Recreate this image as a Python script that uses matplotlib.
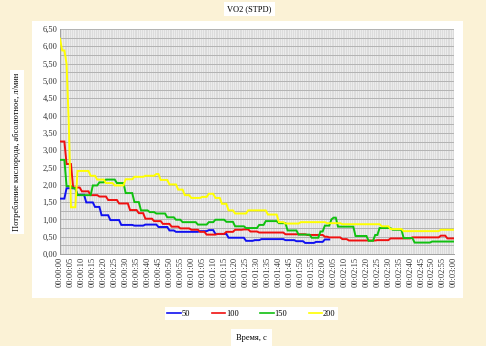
import numpy as np
import matplotlib
matplotlib.use("Agg")
import matplotlib.pyplot as plt
from matplotlib.patches import Rectangle
from matplotlib.ticker import MultipleLocator, FuncFormatter

# VO2 (STPD), one sample per second, l/min
vo2_50 = [
    1.60, 1.60, 1.60, 1.90, 1.90, 1.90, 1.90, 1.90, 1.71, 1.71,
    1.71, 1.71, 1.49, 1.49, 1.49, 1.49, 1.36, 1.36, 1.36, 1.12,
    1.12, 1.12, 1.12, 0.98, 0.98, 0.98, 0.98, 0.98, 0.84, 0.84,
    0.84, 0.84, 0.84, 0.84, 0.82, 0.82, 0.82, 0.82, 0.82, 0.85,
    0.85, 0.85, 0.85, 0.85, 0.85, 0.78, 0.78, 0.78, 0.78, 0.78,
    0.68, 0.68, 0.68, 0.64, 0.64, 0.64, 0.64, 0.64, 0.64, 0.64,
    0.64, 0.64, 0.64, 0.64, 0.66, 0.66, 0.66, 0.66, 0.69, 0.69,
    0.69, 0.58, 0.58, 0.58, 0.58, 0.58, 0.58, 0.47, 0.47, 0.47,
    0.47, 0.47, 0.47, 0.47, 0.47, 0.38, 0.38, 0.38, 0.38, 0.40,
    0.40, 0.40, 0.43, 0.43, 0.43, 0.43, 0.43, 0.43, 0.43, 0.43,
    0.43, 0.43, 0.43, 0.40, 0.40, 0.40, 0.40, 0.40, 0.37, 0.37,
    0.37, 0.37, 0.32, 0.32, 0.32, 0.32, 0.32, 0.35, 0.35, 0.35,
    0.35, 0.42, 0.42, 0.42,
]
vo2_100 = [
    3.25, 3.25, 3.25, 2.60, 2.60, 2.60, 1.92, 1.92, 1.92, 1.92,
    1.81, 1.81, 1.81, 1.81, 1.70, 1.70, 1.70, 1.70, 1.66, 1.66,
    1.66, 1.66, 1.56, 1.56, 1.56, 1.56, 1.56, 1.46, 1.46, 1.46,
    1.46, 1.46, 1.27, 1.27, 1.27, 1.27, 1.18, 1.18, 1.18, 1.02,
    1.02, 1.02, 1.02, 0.95, 0.95, 0.95, 0.95, 0.87, 0.87, 0.87,
    0.87, 0.79, 0.79, 0.79, 0.79, 0.74, 0.74, 0.74, 0.74, 0.74,
    0.70, 0.70, 0.70, 0.70, 0.64, 0.64, 0.64, 0.56, 0.56, 0.56,
    0.56, 0.56, 0.58, 0.58, 0.58, 0.58, 0.64, 0.64, 0.64, 0.64,
    0.70, 0.70, 0.70, 0.70, 0.71, 0.71, 0.71, 0.65, 0.65, 0.65,
    0.65, 0.62, 0.62, 0.62, 0.62, 0.62, 0.62, 0.62, 0.62, 0.62,
    0.62, 0.62, 0.62, 0.57, 0.57, 0.57, 0.57, 0.57, 0.57, 0.57,
    0.57, 0.57, 0.57, 0.55, 0.55, 0.55, 0.55, 0.55, 0.55, 0.55,
    0.55, 0.50, 0.50, 0.48, 0.48, 0.48, 0.48, 0.48, 0.48, 0.43,
    0.43, 0.43, 0.39, 0.39, 0.39, 0.39, 0.39, 0.39, 0.39, 0.39,
    0.39, 0.39, 0.39, 0.39, 0.39, 0.40, 0.40, 0.40, 0.40, 0.40,
    0.40, 0.45, 0.45, 0.45, 0.45, 0.45, 0.45, 0.45, 0.45, 0.45,
    0.45, 0.48, 0.48, 0.48, 0.48, 0.48, 0.48, 0.48, 0.48, 0.48,
    0.48, 0.48, 0.48, 0.48, 0.53, 0.53, 0.53, 0.45, 0.45, 0.45,
    0.45,
]
vo2_150 = [
    2.72, 2.72, 2.72, 1.96, 1.96, 1.96, 1.90, 1.90, 1.70, 1.70,
    1.70, 1.70, 1.70, 1.70, 1.70, 1.98, 1.98, 1.98, 2.07, 2.07,
    2.07, 2.15, 2.15, 2.15, 2.15, 2.15, 2.05, 2.05, 2.05, 2.05,
    1.76, 1.76, 1.76, 1.76, 1.50, 1.50, 1.50, 1.26, 1.26, 1.26,
    1.26, 1.21, 1.21, 1.21, 1.17, 1.17, 1.17, 1.17, 1.17, 1.06,
    1.06, 1.06, 1.06, 0.99, 0.99, 0.99, 0.92, 0.92, 0.92, 0.92,
    0.92, 0.92, 0.92, 0.85, 0.85, 0.85, 0.85, 0.85, 0.92, 0.92,
    0.92, 0.99, 0.99, 0.99, 0.99, 0.99, 0.93, 0.93, 0.93, 0.93,
    0.80, 0.80, 0.80, 0.80, 0.80, 0.75, 0.75, 0.75, 0.75, 0.75,
    0.75, 0.84, 0.84, 0.84, 0.95, 0.95, 0.95, 0.95, 0.95, 0.95,
    0.89, 0.89, 0.89, 0.89, 0.68, 0.68, 0.68, 0.68, 0.68, 0.56,
    0.56, 0.56, 0.56, 0.56, 0.56, 0.47, 0.47, 0.47, 0.47, 0.65,
    0.65, 0.82, 0.82, 0.82, 1.00, 1.05, 1.05, 0.79, 0.79, 0.79,
    0.79, 0.79, 0.79, 0.79, 0.79, 0.52, 0.52, 0.52, 0.52, 0.52,
    0.52, 0.38, 0.38, 0.38, 0.55, 0.55, 0.75, 0.75, 0.75, 0.75,
    0.75, 0.75, 0.70, 0.70, 0.70, 0.70, 0.70, 0.46, 0.46, 0.46,
    0.46, 0.46, 0.33, 0.33, 0.33, 0.33, 0.33, 0.33, 0.33, 0.33,
    0.36, 0.36, 0.36, 0.36, 0.36, 0.36, 0.36, 0.36, 0.36, 0.36,
    0.36,
]
vo2_200 = [
    6.22, 5.88, 5.88, 5.50, 3.80, 1.35, 1.35, 1.35, 2.40, 2.40,
    2.40, 2.40, 2.40, 2.40, 2.26, 2.26, 2.26, 2.15, 2.15, 2.15,
    2.15, 2.05, 2.05, 2.05, 2.05, 1.98, 1.98, 1.98, 1.98, 1.98,
    2.16, 2.16, 2.16, 2.16, 2.23, 2.23, 2.23, 2.23, 2.23, 2.26,
    2.26, 2.26, 2.26, 2.26, 2.31, 2.31, 2.14, 2.14, 2.14, 2.14,
    2.01, 2.01, 2.01, 2.01, 1.86, 1.86, 1.86, 1.70, 1.70, 1.70,
    1.62, 1.62, 1.62, 1.62, 1.62, 1.65, 1.65, 1.65, 1.74, 1.74,
    1.74, 1.62, 1.62, 1.62, 1.45, 1.45, 1.45, 1.26, 1.26, 1.26,
    1.17, 1.17, 1.17, 1.17, 1.17, 1.17, 1.26, 1.26, 1.26, 1.26,
    1.26, 1.26, 1.26, 1.26, 1.26, 1.14, 1.14, 1.14, 1.14, 1.14,
    0.92, 0.92, 0.92, 0.88, 0.88, 0.88, 0.88, 0.88, 0.88, 0.88,
    0.92, 0.92, 0.92, 0.92, 0.92, 0.92, 0.92, 0.92, 0.92, 0.92,
    0.92, 0.92, 0.89, 0.89, 0.89, 0.89, 0.89, 0.89, 0.89, 0.86,
    0.86, 0.86, 0.86, 0.86, 0.86, 0.86, 0.86, 0.86, 0.86, 0.86,
    0.86, 0.86, 0.86, 0.86, 0.86, 0.86, 0.86, 0.80, 0.80, 0.80,
    0.80, 0.72, 0.72, 0.72, 0.72, 0.72, 0.72, 0.66, 0.66, 0.66,
    0.66, 0.66, 0.66, 0.66, 0.66, 0.66, 0.66, 0.66, 0.66, 0.66,
    0.66, 0.66, 0.66, 0.66, 0.70, 0.70, 0.70, 0.70, 0.70, 0.70,
    0.70,
]
series_names = ["50", "100", "150", "200"]
series_colors = ["#1010F0", "#F01010", "#10C010", "#FFFF00"]
tick_seconds = list(range(0, 181, 5))
tick_labels = [f"00:{s // 60:02d}:{s % 60:02d}" for s in tick_seconds]

serif = "Liberation Serif"
fs = 6

W, H = 486, 346
fig = plt.figure(figsize=(W / 100, H / 100), dpi=100)
fig.patch.set_facecolor("#FBF2D6")

def px_box(x0, y0, x1, y1):
    return [x0 / W, 1 - y1 / H, (x1 - x0) / W, (y1 - y0) / H]

# white chart area behind the plot
chart_bg = Rectangle((32 / W, 1 - 298 / H), (463 - 32) / W, (298 - 21) / H,
                     transform=fig.transFigure, facecolor="white",
                     edgecolor="none", zorder=-5)
fig.add_artist(chart_bg)

ax = fig.add_axes(px_box(60, 29, 454, 254))
ax.set_zorder(1)
ax.set_facecolor("#DCDCDC")

for vals, name, col in zip([vo2_50, vo2_100, vo2_150, vo2_200], series_names, series_colors):
    t = np.arange(len(vals))
    ax.plot(t, vals, color=col, lw=1.4, label=name, solid_joinstyle="miter", zorder=3)

ax.set_xlim(0, 180)
ax.set_ylim(0, 6.5)
ax.yaxis.set_major_locator(MultipleLocator(0.5))
ax.yaxis.set_minor_locator(MultipleLocator(0.25))
ax.yaxis.set_major_formatter(FuncFormatter(lambda v, p: f"{v:.2f}".replace(".", ",")))
ax.set_xticks(tick_seconds)
ax.set_xticklabels(tick_labels, rotation=90, fontsize=fs, family=serif)
ax.xaxis.set_minor_locator(MultipleLocator(1))
for lab in ax.get_yticklabels():
    lab.set_fontsize(fs)
    lab.set_family(serif)

# per-second category lines and horizontal value lines
ax.grid(which="both", axis="x", color="#F6F6F6", lw=0.45, zorder=1)
ax.grid(which="both", axis="y", color="#B2B2B2", lw=0.7, zorder=2)
ax.set_axisbelow(True)
ax.tick_params(which="both", length=0, pad=2, colors="#333333")
for s in ["top", "right"]:
    ax.spines[s].set_visible(False)
for s in ["left", "bottom"]:
    ax.spines[s].set_color("#A0A0A0")
    ax.spines[s].set_linewidth(0.7)

box = dict(boxstyle="square,pad=0.35", facecolor="white", edgecolor="none")
fig.text(249.5 / W, 1 - 9 / H, "VO2 (STPD)", ha="center", va="center",
         fontsize=fs, family=serif, bbox=box)
fig.text(17 / W, 1 - 152 / H, "Потребление кислорода, абсолютное, л/мин",
         rotation=90, ha="center", va="center", fontsize=fs, family=serif, bbox=box)
fig.text(251.5 / W, 1 - 337.5 / H, "Время, с", ha="center", va="center",
         fontsize=fs, family=serif, bbox=dict(boxstyle="square,pad=0.6",
                                               facecolor="white", edgecolor="none"))

leg = fig.legend(loc="center", bbox_to_anchor=(251.5 / W, 1 - 313.5 / H), ncol=4,
                 frameon=True, fancybox=False, edgecolor="none", facecolor="white",
                 framealpha=1, prop={"family": serif, "size": fs},
                 handlelength=1.6, handletextpad=0.1, columnspacing=2.6,
                 borderpad=0.3)
for line in leg.get_lines():
    line.set_linewidth(1.2)

fig.savefig("out.png", dpi=100, facecolor=fig.get_facecolor())
